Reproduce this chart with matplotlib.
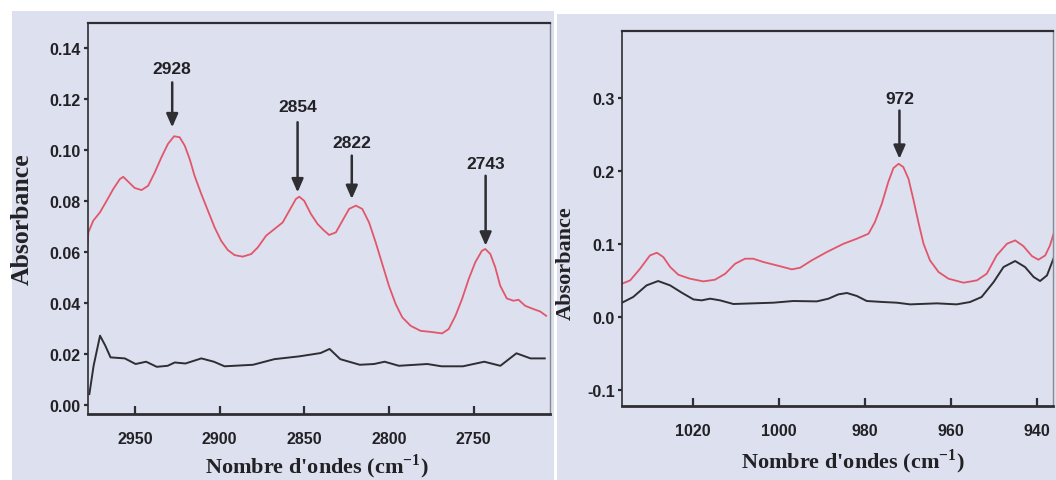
import matplotlib
matplotlib.use("Agg")
import matplotlib.pyplot as plt
from matplotlib.patches import Rectangle

plt.rcParams['mathtext.fontset'] = 'custom'
plt.rcParams['mathtext.rm'] = 'Liberation Serif:bold'
plt.rcParams['mathtext.bf'] = 'Liberation Serif:bold'

# C-H stretching region (left panel)
wn_ch = [2978.0, 2977.5, 2974.6, 2970.6, 2966.7, 2962.8, 2958.9, 2956.9, 2954.0, 2950.1,
         2946.1, 2942.2, 2938.3, 2934.4, 2930.5, 2926.9, 2923.6, 2920.6, 2917.7, 2914.8,
         2910.8, 2906.9, 2903.0, 2899.1, 2895.2, 2891.2, 2886.4, 2881.4, 2877.5, 2872.6,
         2867.7, 2862.8, 2858.9, 2855.0, 2853.0, 2850.1, 2846.1, 2842.2, 2838.5, 2835.4,
         2831.4, 2827.5, 2823.6, 2819.6, 2815.8, 2811.8, 2807.9, 2804.0, 2800.1, 2796.1,
         2792.2, 2787.3, 2781.4, 2775.5, 2768.7, 2764.8, 2760.8, 2756.9, 2753.0, 2749.1,
         2745.2, 2743.2, 2740.2, 2737.3, 2734.4, 2730.5, 2726.5, 2723.6, 2719.6, 2714.6,
         2710.8, 2707.3]
abs_ch_red = [0.0625, 0.0677, 0.0723, 0.0756, 0.0801, 0.0847, 0.0886, 0.0895, 0.0876, 0.0851,
              0.0843, 0.0860, 0.0912, 0.0971, 0.1024, 0.1054, 0.1050, 0.1017, 0.0965, 0.0899,
              0.0827, 0.0762, 0.0697, 0.0644, 0.0608, 0.0588, 0.0582, 0.0592, 0.0618, 0.0664,
              0.0690, 0.0716, 0.0762, 0.0808, 0.0817, 0.0801, 0.0749, 0.0710, 0.0685, 0.0667,
              0.0677, 0.0723, 0.0769, 0.0782, 0.0769, 0.0716, 0.0638, 0.0553, 0.0468, 0.0396,
              0.0344, 0.0311, 0.0291, 0.0287, 0.0281, 0.0298, 0.0350, 0.0416, 0.0494, 0.0560,
              0.0605, 0.0612, 0.0592, 0.0540, 0.0468, 0.0418, 0.0409, 0.0413, 0.0389, 0.0376,
              0.0367, 0.0350]

wn_ch_ref = [2976.9, 2974.4, 2970.6, 2967.5, 2964.4, 2956.0, 2949.6, 2943.4, 2937.1, 2930.7,
             2926.5, 2920.2, 2910.8, 2903.4, 2897.1, 2880.3, 2867.7, 2853.0, 2840.4, 2835.1,
             2828.8, 2817.3, 2808.9, 2802.6, 2794.2, 2777.4, 2769.0, 2756.4, 2743.8, 2734.3,
             2724.8, 2716.5, 2708.1]
abs_ch_ref = [0.0043, 0.0154, 0.0272, 0.0233, 0.0187, 0.0183, 0.0161, 0.0170, 0.0150, 0.0154,
              0.0167, 0.0163, 0.0183, 0.0170, 0.0152, 0.0158, 0.0180, 0.0191, 0.0204, 0.0220,
              0.0180, 0.0158, 0.0161, 0.0170, 0.0154, 0.0161, 0.0152, 0.0152, 0.0170, 0.0154,
              0.0203, 0.0183, 0.0183]

peaks_ch = [2928, 2854, 2822, 2743]
peaks_ch_tip = [0.1089, 0.0834, 0.0808, 0.0625]
peaks_ch_tail = [0.1265, 0.1109, 0.0978, 0.0899]
peaks_ch_text = [0.1318, 0.1171, 0.1030, 0.0949]

# trans C=C region (right panel)
wn_cc = [1036.5, 1034.6, 1032.3, 1030.0, 1028.4, 1026.9, 1025.3, 1023.4, 1020.7, 1017.6,
         1014.9, 1012.5, 1010.2, 1007.9, 1006.0, 1003.6, 1000.5, 997.0, 995.1, 992.4,
         988.9, 985.0, 981.9, 979.2, 977.7, 976.1, 974.6, 973.4, 972.2, 971.1,
         969.9, 968.8, 967.6, 966.4, 964.9, 962.9, 960.6, 957.1, 954.0, 951.7,
         949.4, 947.0, 945.1, 943.2, 941.2, 939.7, 938.1, 937.0, 935.8]
abs_cc_red = [0.0456, 0.0502, 0.0662, 0.0844, 0.0881, 0.0822, 0.0685, 0.0579, 0.0525, 0.0488,
              0.0511, 0.0593, 0.0730, 0.0799, 0.0799, 0.0753, 0.0707, 0.0653, 0.0675, 0.0776,
              0.0890, 0.1004, 0.1073, 0.1141, 0.1301, 0.1552, 0.1849, 0.2041, 0.2100, 0.2055,
              0.1895, 0.1621, 0.1301, 0.1004, 0.0776, 0.0616, 0.0525, 0.0470, 0.0502, 0.0593,
              0.0844, 0.1004, 0.1050, 0.0972, 0.0835, 0.0785, 0.0844, 0.0981, 0.1210]

wn_cc_ref = [1036.5, 1033.9, 1030.8, 1028.1, 1025.3, 1022.6, 1019.9, 1018.0, 1016.0, 1013.7,
             1010.6, 1006.0, 1001.3, 996.7, 991.2, 988.5, 986.2, 984.2, 981.9, 979.6,
             975.7, 972.6, 969.5, 963.3, 958.7, 955.6, 952.9, 950.1, 947.8, 945.1,
             942.8, 940.8, 939.3, 937.7, 936.2]
abs_cc_ref = [0.0196, 0.0274, 0.0433, 0.0493, 0.0433, 0.0333, 0.0241, 0.0228, 0.0251, 0.0228,
              0.0178, 0.0187, 0.0196, 0.0219, 0.0214, 0.0251, 0.0310, 0.0329, 0.0288, 0.0219,
              0.0205, 0.0196, 0.0173, 0.0187, 0.0173, 0.0205, 0.0274, 0.0479, 0.0685, 0.0767,
              0.0685, 0.0548, 0.0493, 0.0570, 0.0799]

peaks_cc = [972]
peaks_cc_tip = [0.2168]
peaks_cc_tail = [0.283]
peaks_cc_text = [0.299]

RED = '#e2566b'
DARK = '#2e2e33'
TXT = '#222226'
BG = '#dde0ee'

label_font = dict(family='Liberation Serif', weight='bold', size=16, color=TXT)
xlabel_text = "Nombre d'ondes (cm$^{\\mathbf{-1}}$)"

fig = plt.figure(figsize=(10.56, 4.81), dpi=100)
fig.patch.set_facecolor('white')
W, H = 1056.0, 481.0

# scanned page background behind each panel
for x0, x1, top in [(12, 554, 12), (557, 1056, 15)]:
    fig.add_artist(Rectangle((x0 / W, 0), (x1 - x0) / W, (H - top) / H,
                             transform=fig.transFigure, facecolor=BG,
                             edgecolor='none', zorder=-5))

ax1 = fig.add_axes([87.5 / W, 1 - 415 / H, (550 - 87.5) / W, (415 - 24) / H])
ax2 = fig.add_axes([622 / W, 1 - 407 / H, (1053 - 622) / W, (407 - 32) / H])


def style(ax):
    ax.set_facecolor('none')
    for side in ['top', 'bottom', 'left']:
        ax.spines[side].set_color(DARK)
    ax.spines['right'].set_color('#8a8a90')
    ax.spines['top'].set_linewidth(1.6)
    ax.spines['bottom'].set_linewidth(2.0)
    ax.spines['left'].set_linewidth(1.2)
    ax.spines['right'].set_linewidth(1.0)
    ax.tick_params(axis='x', direction='in', length=6, width=1.6, color=DARK, pad=12)
    ax.tick_params(axis='y', direction='out', length=3, width=1.6, color=DARK, pad=2)
    for lab in ax.get_xticklabels() + ax.get_yticklabels():
        lab.set_fontfamily('Liberation Sans')
        lab.set_fontweight('bold')
        lab.set_fontsize(11.5)
        lab.set_color(TXT)


def arrows(ax, xs, tips, tails, texts):
    for x, tip, tail, ty in zip(xs, tips, tails, texts):
        ax.annotate('', xy=(x, tip), xytext=(x, tail),
                    arrowprops=dict(arrowstyle='-|>,head_width=0.35,head_length=0.8',
                                    color=DARK, lw=1.8, shrinkA=0, shrinkB=0))
        ax.text(x, ty, str(x), ha='center', va='center', color=TXT,
                family='Liberation Sans', weight='bold', size=12.5)


# left panel
ax1.plot(wn_ch, abs_ch_red, color=RED, lw=1.3)
ax1.plot(wn_ch_ref, abs_ch_ref, color=DARK, lw=1.4)
ax1.set_xlim(2978, 2705)
ax1.set_ylim(-0.0035, 0.1498)
ax1.set_xticks([2950, 2900, 2850, 2800, 2750])
ax1.set_yticks([0.00, 0.02, 0.04, 0.06, 0.08, 0.10, 0.12, 0.14])
ax1.set_yticklabels(['%.2f' % v for v in ax1.get_yticks()])
style(ax1)
arrows(ax1, peaks_ch, peaks_ch_tip, peaks_ch_tail, peaks_ch_text)
ax1.set_ylabel('Absorbance', family='Liberation Serif', weight='bold', size=18.5, color=TXT)
ax1.yaxis.set_label_coords((34 - 87.5) / (550 - 87.5), 0.5)
ax1.set_xlabel(xlabel_text, **label_font)
ax1.xaxis.set_label_coords(0.495, -(452 - 415) / (415 - 24))

# right panel
ax2.plot(wn_cc, abs_cc_red, color=RED, lw=1.3)
ax2.plot(wn_cc_ref, abs_cc_ref, color=DARK, lw=1.4)
ax2.set_xlim(1036.5, 936.3)
ax2.set_ylim(-0.122, 0.392)
ax2.set_xticks([1020, 1000, 980, 960, 940])
ax2.set_yticks([-0.1, 0.0, 0.1, 0.2, 0.3])
ax2.set_yticklabels(['%.1f' % v for v in ax2.get_yticks()])
style(ax2)
arrows(ax2, peaks_cc, peaks_cc_tip, peaks_cc_tail, peaks_cc_text)
ax2.set_ylabel('Absorbance', **label_font)
ax2.yaxis.set_label_coords((576 - 622) / (1053 - 622), (407 - 263) / (407 - 32))
ax2.set_xlabel(xlabel_text, **label_font)
ax2.xaxis.set_label_coords((853 - 622) / (1053 - 622), -(447 - 407) / (407 - 32))

fig.savefig('out.png', dpi=100, facecolor='white')
